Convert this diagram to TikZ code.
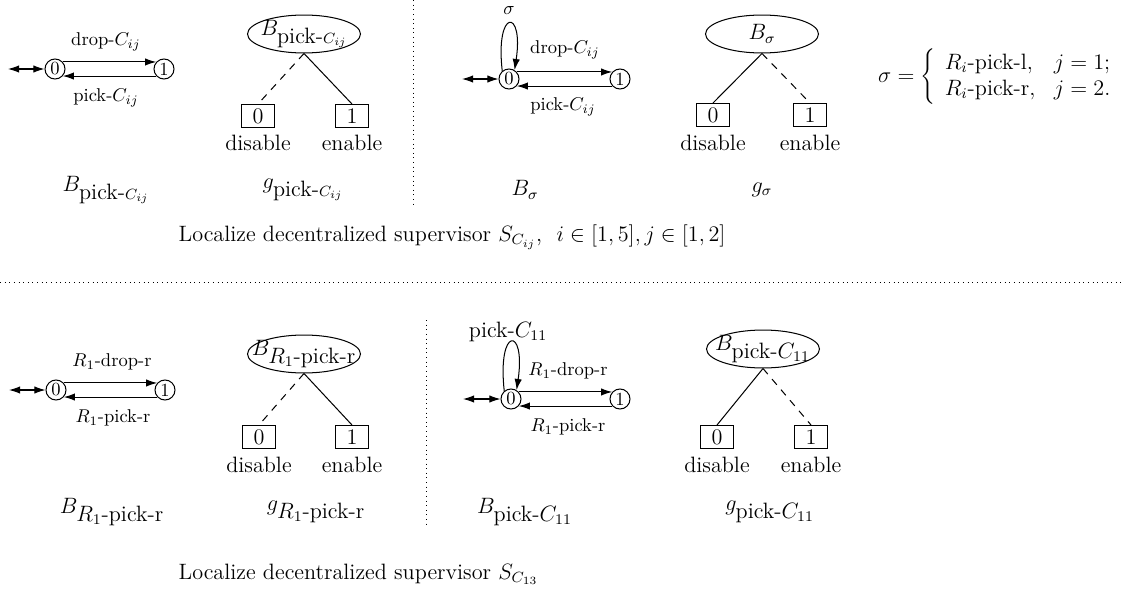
\documentclass[tikz,border=0pt]{standalone}
\usetikzlibrary{arrows.meta,shapes.geometric}
\begin{document}
\begin{tikzpicture}[x=0.54pt,y=-0.54pt,line width=0.55pt,
  st/.style={circle,draw,inner sep=0pt,minimum size=10.8pt},
  bx/.style={draw,minimum width=17.8pt,minimum height=12.4pt,inner sep=0pt,font=\large},
  ell/.style={ellipse,draw,minimum width=61pt,minimum height=20.5pt,inner sep=0pt},
  etxt/.style={font=\large,inner sep=0pt},
  arr/.style={-{Latex[length=6pt,width=4pt]}},
  darr/.style={{Latex[length=6pt,width=4pt]}-{Latex[length=6pt,width=4pt]}},
  lab/.style={font=\large},
  wd/.style={font=\large,text height=1.6ex,text depth=0.25ex},
  dsh/.style={dash pattern=on 4pt off 3.5pt},
  sep/.style={line width=0.5pt,dotted}]
\useasboundingbox (0,0) rectangle (1122,593);

% ---------- top half ----------
% panel 1
\coordinate (i1) at (8,69);
\node[st] (a0) at (55,69) {0};
\node[st] (a1) at (164,69) {1};
\draw[darr] (i1) -- (a0);
\draw[arr] (a0.42) -- (a1.138);
\draw[arr] (a1.-138) -- (a0.-42);
\node (la1) at (106,42) {drop-$C_{ij}$};
\node (la2) at (106,98) {pick-$C_{ij}$};

% panel 2
\node[ell] (e1) at (304,34) {};
\node[etxt] (e1t) at (e1) {$B_{\mbox{pick-}C_{ij}}$};
\node[bx] (b10) at (258,116) {0};
\node[bx] (b11) at (352,116) {1};
\node[wd] (d1) at (258,145) {disable};
\node[wd] (n1) at (352,145) {enable};
\draw[dsh] (e1.south) -- (b10.north);
\draw (e1.south) -- (b11.north);
\node[lab] (L1) at (106,190) {$B_{\mbox{pick-}C_{ij}}$};
\node[lab] (L2) at (303,190) {$g_{\mbox{pick-}C_{ij}}$};

% separator
\coordinate (v1a) at (413,0);
\coordinate (v1b) at (413,205);
\draw[sep] (v1a) -- (v1b);

% panel 3
\coordinate (i2) at (462,79);
\node[st] (c0) at (509,79) {0};
\node[st] (c1) at (620,79) {1};
\draw[darr] (i2) -- (c0);
\draw[arr] (c0.130) .. controls (495,8) and (524,8) .. (c0.58);
\node[inner sep=1pt] (sg) at (509,11) {$\sigma$};
\draw[arr] (c0.42) -- (c1.138);
\draw[arr] (c1.-138) -- (c0.-42);
\node (lc1) at (565,50) {drop-$C_{ij}$};
\node (lc2) at (563,107) {pick-$C_{ij}$};

% panel 4
\node[ell] (e2) at (762,34) {};
\node[etxt] (e2t) at (e2) {$B_\sigma$};
\node[bx] (b20) at (713,115) {0};
\node[bx] (b21) at (810,115) {1};
\node[wd] (d2) at (713,145) {disable};
\node[wd] (n2) at (810,145) {enable};
\draw (e2.south) -- (b20.north);
\draw[dsh] (e2.south) -- (b21.north);
\node[lab] (L3) at (525,190) {$B_\sigma$};
\node[lab] (L4) at (762,190) {$g_\sigma$};

\node[font=\large] (eq) at (1000,77) {$\sigma=\left\{\begin{array}{ll}R_i\mbox{-pick-l}, & j=1;\\ R_i\mbox{-pick-r}, & j=2.\end{array}\right.$};

\node[lab,anchor=west] (cap1) at (172,237) {Localize decentralized supervisor $S_{C_{ij}}$,\ \ $i\in[1,5],j\in[1,2]$};

\coordinate (h1) at (0,282);
\coordinate (h2) at (1122,282);
\draw[sep] (h1) -- (h2);

% ---------- bottom half ----------
% panel 5
\coordinate (i3) at (9,390);
\node[st] (p0) at (56,390) {0};
\node[st] (p1) at (165,390) {1};
\draw[darr] (i3) -- (p0);
\draw[arr] (p0.42) -- (p1.138);
\draw[arr] (p1.-138) -- (p0.-42);
\node (lp1) at (112,362) {$R_1$-drop-r};
\node (lp2) at (113,418) {$R_1$-pick-r};

% panel 6
\node[ell] (e3) at (304,354) {};
\node[etxt] (e3t) at (e3) {$B_{\mbox{$R_1$-pick-r}}$};
\node[bx] (b30) at (259,437) {0};
\node[bx] (b31) at (352,437) {1};
\node[wd] (d3) at (259,467) {disable};
\node[wd] (n3) at (352,467) {enable};
\draw[dsh] (e3.south) -- (b30.north);
\draw (e3.south) -- (b31.north);
\node[lab] (L5) at (112,512) {$B_{\mbox{$R_1$-pick-r}}$};
\node[lab] (L6) at (316,512) {$g_{\mbox{$R_1$-pick-r}}$};

% separator
\coordinate (v2a) at (426,320);
\coordinate (v2b) at (426,525);
\draw[sep] (v2a) -- (v2b);

% panel 7
\coordinate (i4) at (463,399);
\node[st] (q0) at (511,399) {0};
\node[st] (q1) at (620,399) {1};
\draw[darr] (i4) -- (q0);
\draw[arr] (q0.130) .. controls (497,326) and (526,326) .. (q0.58);
\node[font=\large] (lq0) at (508,332) {pick-$C_{11}$};
\draw[arr] (q0.42) -- (q1.138);
\draw[arr] (q1.-138) -- (q0.-42);
\node (lq1) at (568,371) {$R_1$-drop-r};
\node (lq2) at (568,427) {$R_1$-pick-r};

% panel 8
\node[ell] (e4) at (763,349) {};
\node[etxt] (e4t) at (e4) {$B_{\mbox{pick-$C_{11}$}}$};
\node[bx] (b40) at (717,437) {0};
\node[bx] (b41) at (811,437) {1};
\node[wd] (d4) at (717,467) {disable};
\node[wd] (n4) at (811,467) {enable};
\draw (e4.south) -- (b40.north);
\draw[dsh] (e4.south) -- (b41.north);
\node[lab] (L7) at (525,512) {$B_{\mbox{pick-$C_{11}$}}$};
\node[lab] (L8) at (770,512) {$g_{\mbox{pick-$C_{11}$}}$};

\node[lab,anchor=west] (cap2) at (172,574) {Localize decentralized supervisor $S_{C_{13}}$};
\end{tikzpicture}
\end{document}
